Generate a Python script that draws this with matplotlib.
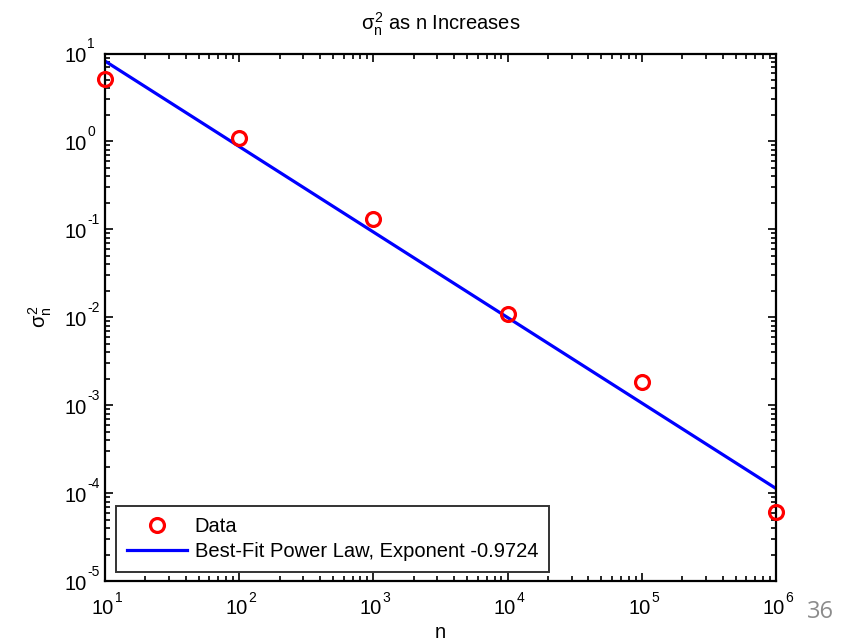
import numpy as np
import matplotlib
matplotlib.use("Agg")
import matplotlib.pyplot as plt

# Data
n_values = [1e1, 1e2, 1e3, 1e4, 1e5, 1e6]
sigma2 = [5.09, 1.10, 0.1315, 0.01096, 0.00182, 6.08e-5]
fit_exponent = -0.9724
fit_coef = 77.0
x_decades = [1, 2, 3, 4, 5, 6]
y_decades = [-5, -4, -3, -2, -1, 0, 1]

plt.rcParams['font.family'] = ['Liberation Sans', 'DejaVu Sans']
plt.rcParams['mathtext.fontset'] = 'custom'
plt.rcParams['mathtext.rm'] = 'Liberation Sans'
plt.rcParams['mathtext.it'] = 'Liberation Sans'
plt.rcParams['mathtext.sf'] = 'Liberation Sans'

FS = 14.5
EFS = 10
PX = 0.72  # points per pixel at 100 dpi

fig = plt.figure(figsize=(8.48, 6.42), dpi=100)
ax = fig.add_axes([105/848, 1-581/642, (776-105)/848, (581-53.5)/642])

xfit = np.array([n_values[0], n_values[-1]])
yfit = fit_coef * xfit ** fit_exponent

ax.plot(n_values, sigma2, 'o', mfc='none', mec='#ff0000', mew=2.3, ms=10,
        label='Data', zorder=3, clip_on=False)
ax.plot(xfit, yfit, '-', color='#0000ff', lw=2.3,
        label='Best-Fit Power Law, Exponent -0.9724', zorder=2)

ax.set_xscale('log')
ax.set_yscale('log')
ax.set_xlim(1e1, 1e6)
ax.set_ylim(1e-5, 1e1)

for s in ax.spines.values():
    s.set_linewidth(1.6)
ax.tick_params(which='both', direction='in', top=True, right=True, width=1.2,
               labelbottom=False, labelleft=False)
ax.tick_params(which='major', length=6)
ax.tick_params(which='minor', length=3.5)

# MATLAB-style tick labels: "10" with a small raised exponent
for d in x_decades:
    ax.annotate('10', xy=(10.0**d, 0), xycoords=('data', 'axes fraction'),
                xytext=(8.5*PX, -33*PX), textcoords='offset points',
                ha='right', va='baseline', fontsize=FS, annotation_clip=False)
    ax.annotate(str(d), xy=(10.0**d, 0), xycoords=('data', 'axes fraction'),
                xytext=(9.5*PX, -21*PX), textcoords='offset points',
                ha='left', va='baseline', fontsize=EFS, annotation_clip=False)
for d in y_decades:
    ax.annotate('10', xy=(0, 10.0**d), xycoords=('axes fraction', 'data'),
                xytext=(-18*PX, -8.5*PX), textcoords='offset points',
                ha='right', va='baseline', fontsize=FS, annotation_clip=False)
    ax.annotate(str(d), xy=(0, 10.0**d), xycoords=('axes fraction', 'data'),
                xytext=(-17.5*PX, 5.5*PX), textcoords='offset points',
                ha='left', va='baseline', fontsize=EFS, annotation_clip=False)

fig.text(440.5/848, 1-30/642, r'$\sigma_n^2$ as n Increases', fontsize=FS,
         ha='center', va='baseline')
fig.text(440.5/848, 1-638/642, 'n', fontsize=FS, ha='center', va='baseline')
fig.text(40/848, 1-317/642, r'$\sigma_n^2$', fontsize=FS, rotation=90,
         ha='center', va='center')

leg = ax.legend(loc='lower left', bbox_to_anchor=(0.0164, 0.017), fontsize=FS,
                frameon=True, fancybox=False, edgecolor='black',
                handlelength=3.0, borderpad=0.55, labelspacing=0.3,
                handletextpad=0.35, borderaxespad=0)
leg.get_frame().set_linewidth(1.4)

fig.text(807/848, 1-612/642, '36', fontsize=17, color='#8c8c8c',
         family=['Open Sans', 'DejaVu Sans'], va='center', ha='left')

fig.savefig('out.png', dpi=100, facecolor='white')
